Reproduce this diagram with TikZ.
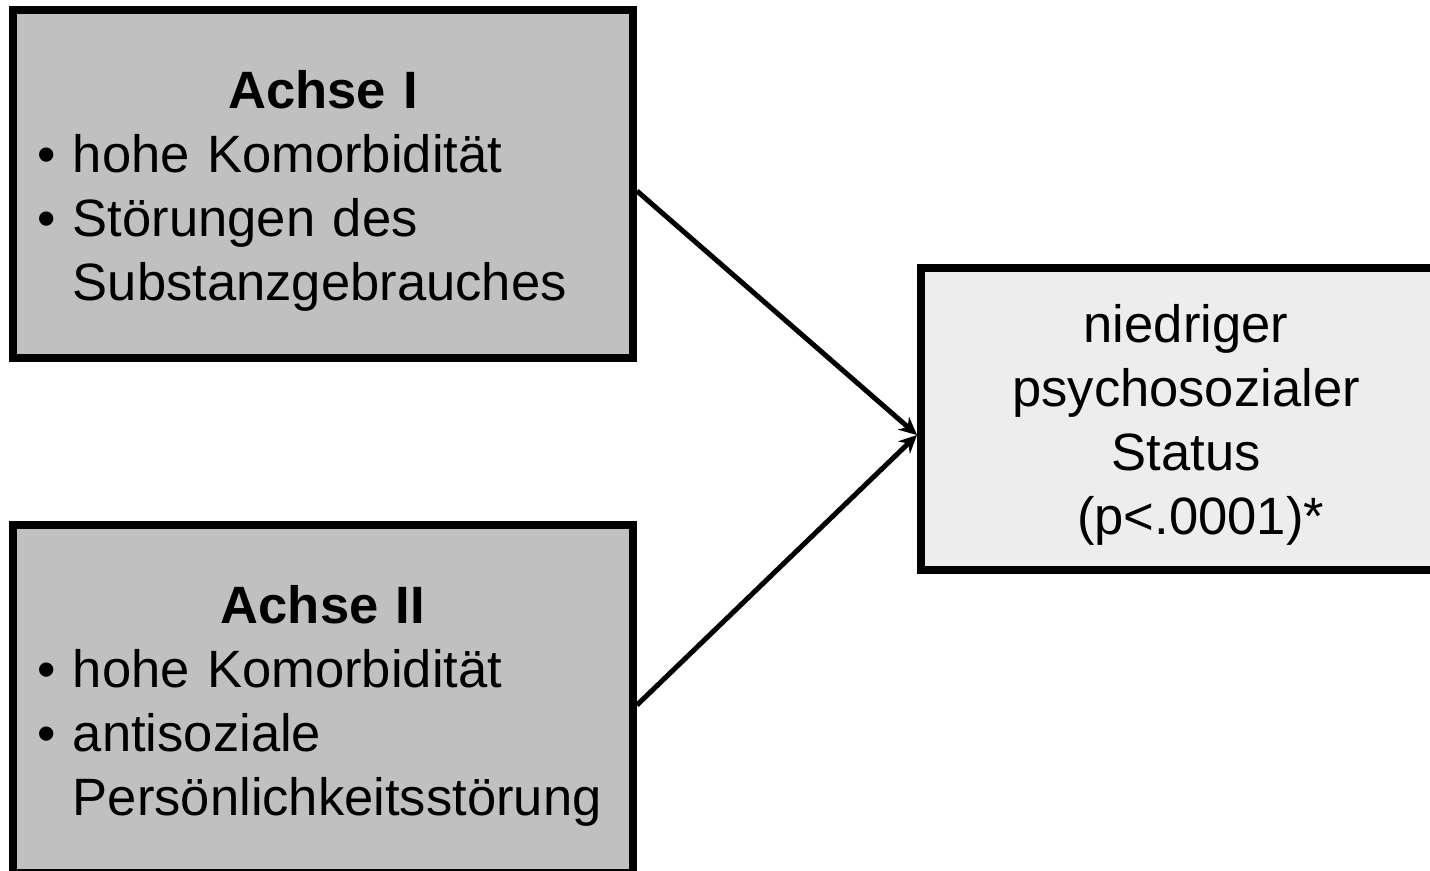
\documentclass[tikz,border=0pt]{standalone}
\usepackage{fontspec}
\setmainfont{Liberation Sans}
\usetikzlibrary{arrows.meta}
\definecolor{axisgray}{HTML}{C0C0C0}
\definecolor{statusgray}{HTML}{EDEDED}

\begin{document}
\begin{tikzpicture}[
font=\fontsize{29.9}{36.4}\selectfont,
flow/.style={-{Stealth[length=3.6mm,width=3.4mm]},line width=0.1cm},
axisbox/.style={draw,line width=0.16cm,fill=axisgray,minimum width=12.4cm,minimum height=6.96cm,text width=11.44cm,align=left,inner sep=0pt},
statusbox/.style={draw,line width=0.16cm,fill=statusgray,minimum width=10.6cm,minimum height=6.04cm,align=center,inner sep=0pt}
]
\path[use as bounding box] (0,0) rectangle (28.6,-17.4);
\clip (0,0) rectangle (28.6,-17.4);

\node[axisbox] (achseI) at (6.46,-3.68) {\rule{0pt}{1.04cm}\hfill\textbf{Achse I}\hfill\null\\
\textbullet\ hohe Komorbidität\\
\textbullet\ Störungen des\\
\phantom{\textbullet}\ Substanzgebrauches};
\node[axisbox] (achseII) at (6.46,-13.98) {\rule{0pt}{1.04cm}\hfill\textbf{Achse II}\hfill\null\\
\textbullet\ hohe Komorbidität\\
\textbullet\ antisoziale\\
\phantom{\textbullet}\ Persönlichkeitsstörung};
\node[statusbox] (status) at (23.72,-8.38) {\rule{0pt}{1.0cm}niedriger~\\ psychosozialer\\ Status\\ ~~(p<.0001)*};

\coordinate (meet) at ([yshift=-0.32cm]status.west);
\draw[flow] ([yshift=-0.14cm]achseI.east) -- (meet);
\draw[flow] ([yshift=-0.12cm]achseII.east) -- (meet);
\end{tikzpicture}
\end{document}
